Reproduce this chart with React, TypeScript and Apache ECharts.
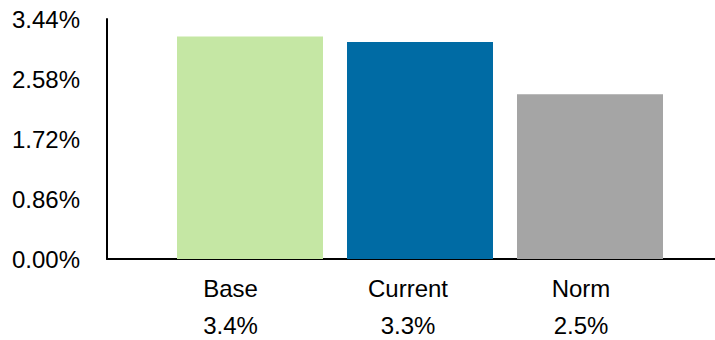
import React, { useEffect, useRef } from "react";
import * as echarts from "echarts";

const categories = ["Base", "Current", "Norm"];
const barValues = [3.19, 3.11, 2.36];
const valueLabels = ["3.4%", "3.3%", "2.5%"];
const barColors = ["#C5E7A4", "#006BA4", "#A5A5A5"];
const yTicks = [0, 0.86, 1.72, 2.58, 3.44];
const labelShift = [39, 24, 18];

export default function App() {
  const ref = useRef<HTMLDivElement>(null);
  useEffect(() => {
    if (!ref.current) return;
    const chart = echarts.init(ref.current, undefined, { renderer: "svg" });
    const font = "'Liberation Sans', Arial, sans-serif";
    const rich: any = {};
    categories.forEach((_, i) => {
      rich["n" + i] = { fontFamily: font, fontSize: 24, color: "#000", lineHeight: 37, padding: [0, labelShift[i], 0, 0] };
      rich["v" + i] = { fontFamily: font, fontSize: 24, color: "#000", lineHeight: 37, padding: [0, labelShift[i], 0, 0] };
    });
    chart.setOption({
      animation: false,
      grid: [
        { left: 107, right: 0, top: 19, bottom: 81 },
        { left: 165, right: 40, top: 19, bottom: 81 },
      ],
      xAxis: [
        {
          gridIndex: 0,
          type: "value",
          min: 0,
          max: 1,
          axisLine: { show: true, lineStyle: { color: "#000", width: 2 } },
          axisTick: { show: false },
          axisLabel: { show: false },
          splitLine: { show: false },
        },
        {
          gridIndex: 1,
          type: "category",
          data: categories,
          axisLine: { show: false },
          axisTick: { show: false },
          axisLabel: {
            margin: 11,
            interval: 0,
            formatter: (v: string, i: number) => `{n${i}|${v}}\n{v${i}|${valueLabels[i]}}`,
            rich,
          },
        },
      ],
      yAxis: [
        {
          gridIndex: 0,
          type: "value",
          min: yTicks[0],
          max: yTicks[yTicks.length - 1],
          interval: 0.86,
          axisLine: { show: true, lineStyle: { color: "#000", width: 2 } },
          axisTick: { show: false },
          splitLine: { show: false },
          axisLabel: {
            margin: 27,
            fontFamily: font,
            fontSize: 24,
            color: "#000",
            formatter: (v: number) => v.toFixed(2) + "%",
          },
        },
        {
          gridIndex: 1,
          type: "value",
          min: 0,
          max: 3.44,
          show: false,
        },
      ],
      series: [
        {
          type: "bar",
          xAxisIndex: 1,
          yAxisIndex: 1,
          barWidth: 146,
          data: barValues.map((v, i) => ({ value: v, itemStyle: { color: barColors[i] } })),
        },
      ],
    });
    return () => chart.dispose();
  }, []);
  return <div ref={ref} style={{ position: "absolute", left: 0, top: 0, width: 715, height: 340 }} />;
}
